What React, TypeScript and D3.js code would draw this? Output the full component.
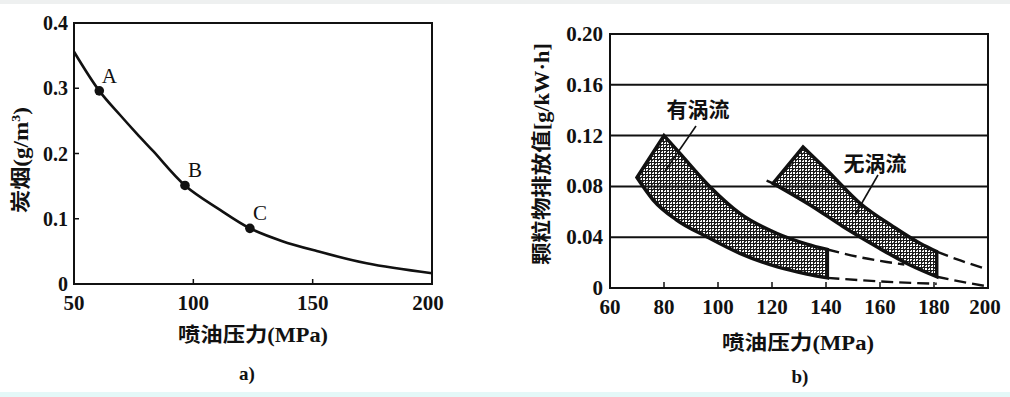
import React from "react";
import * as d3 from "d3";

// ---------- Chart a) data ----------
const aPressure = [50, 60.6, 69.3, 76.3, 83.2, 96.5, 111.2, 123.7, 137, 151.7, 172.6, 200];
const aSoot = [0.356, 0.296, 0.259, 0.2305, 0.2035, 0.151, 0.1135, 0.0853, 0.066, 0.0505, 0.0317, 0.0164];
const aMarkLabels = ["A", "B", "C"];
const aMarkX = [60.6, 96.5, 123.7];
const aMarkY = [0.296, 0.151, 0.0853];
const aXTicks = [50, 100, 150, 200];
const aYTicks = [0, 0.1, 0.2, 0.3, 0.4];
const aYTickLabels = ["0", "0.1", "0.2", "0.3", "0.4"];

// ---------- Chart b) data ----------
const bXTicks = [60, 80, 100, 120, 140, 160, 180, 200];
const bYTicks = [0, 0.04, 0.08, 0.12, 0.16, 0.2];
const bYTickLabels = ["0", "0.04", "0.08", "0.12", "0.16", "0.20"];
const bGrid = [0.04, 0.08, 0.12, 0.16];

// 有涡流 band
const swirlUpperX = [80, 85.9, 97, 108.1, 121.7, 132.9, 140.5];
const swirlUpperY = [0.12, 0.106, 0.0798, 0.0588, 0.0431, 0.0346, 0.0303];
const swirlLowerX = [70, 76, 84.7, 95.8, 108.1, 121.7, 132.9, 140.5];
const swirlLowerY = [0.087, 0.0693, 0.0535, 0.0404, 0.0273, 0.0168, 0.011, 0.008];

// 无涡流 band
const noSwirlUpperX = [131.5, 140.3, 152.6, 164.9, 174.8, 181];
const noSwirlUpperY = [0.111, 0.0929, 0.0667, 0.0483, 0.0352, 0.0286];
const noSwirlLowerX = [120.4, 134.1, 146.4, 158.8, 171.1, 181];
const noSwirlLowerY = [0.0824, 0.0654, 0.0483, 0.0325, 0.0181, 0.0089];

// dashed extensions
const dashSwirlUpX = [140.5, 152, 162.5, 169];
const dashSwirlUpY = [0.0303, 0.0245, 0.0205, 0.0185];
const dashSwirlLowX = [140.5, 160, 181];
const dashSwirlLowY = [0.008, 0.0052, 0.0033];
const dashNoUpX = [181, 190, 200];
const dashNoUpY = [0.0286, 0.0215, 0.0145];
const dashNoLowX = [181, 190, 200];
const dashNoLowY = [0.0089, 0.005, 0.0012];
const dashNoLeftX = [118, 120.4];
const dashNoLeftY = [0.0845, 0.0824];

const SERIF = "'Liberation Serif', 'DejaVu Serif', 'Noto Sans CJK SC', serif";
const CJK = "'Liberation Serif', 'Noto Sans CJK SC', serif";

const zip = (xs: number[], ys: number[]) => xs.map((x, i) => [x, ys[i]] as [number, number]);

export default function App() {
  // scales a)
  const ax = d3.scaleLinear().domain([50, 200]).range([74, 432]);
  const ay = d3.scaleLinear().domain([0, 0.4]).range([284, 23]);
  // scales b)
  const bx = d3.scaleLinear().domain([60, 200]).range([610, 988]);
  const by = d3.scaleLinear().domain([0, 0.2]).range([288, 34]);

  const aLine = d3
    .line<[number, number]>()
    .x((d) => ax(d[0]))
    .y((d) => ay(d[1]))
    .curve(d3.curveCatmullRom.alpha(0.5));

  const bCurve = d3
    .line<[number, number]>()
    .x((d) => bx(d[0]))
    .y((d) => by(d[1]))
    .curve(d3.curveMonotoneX);

  const bandPath = (ux: number[], uy: number[], lx: number[], ly: number[]) => {
    const upper = bCurve(zip(ux, uy)) || "";
    const lowerRev = zip(lx, ly).slice().reverse();
    const lowerPath =
      d3
        .line<[number, number]>()
        .x((d) => bx(d[0]))
        .y((d) => by(d[1]))
        .curve(d3.curveMonotoneX)(lowerRev) || "";
    const start = `M${bx(lx[0])},${by(ly[0])}L${bx(ux[0])},${by(uy[0])}`;
    const up = upper.replace(/^M[^CLZ]*/, "");
    const low = lowerPath.replace(/^M/, "L");
    return start + up + low + "Z";
  };

  const swirlPath = bandPath(swirlUpperX, swirlUpperY, swirlLowerX, swirlLowerY);
  const noSwirlPath = bandPath(noSwirlUpperX, noSwirlUpperY, noSwirlLowerX, noSwirlLowerY);

  const dashes = [
    zip(dashSwirlUpX, dashSwirlUpY),
    zip(dashSwirlLowX, dashSwirlLowY),
    zip(dashNoUpX, dashNoUpY),
    zip(dashNoLowX, dashNoLowY),
  ];

  return (
    <svg
      width={1010}
      height={397}
      style={{ position: "absolute", left: 0, top: 0, background: "#fff" }}
    >
      <defs>
        <pattern id="hatch" width={6} height={6} patternUnits="userSpaceOnUse">
          <rect width={6} height={6} fill="#fff" />
          <rect x={0} y={0} width={6} height={1} fill="#1a1a1a" />
          <rect x={0} y={3} width={6} height={1} fill="#1a1a1a" />
          <rect x={0} y={0} width={1} height={6} fill="#1a1a1a" />
          <rect x={3} y={0} width={1} height={6} fill="#1a1a1a" />
          <rect x={1} y={1} width={1} height={1} fill="#444" />
          <rect x={4} y={4} width={1} height={1} fill="#444" />
          <rect x={5} y={2} width={1} height={1} fill="#666" />
        </pattern>
      </defs>
      <rect x={0} y={0} width={1010} height={397} fill="#fff" />
      <rect x={0} y={0} width={1010} height={4} fill="#eef0f0" />
      <rect x={0} y={392} width={1010} height={5} fill="#e4f8f8" />

      {/* ================= Chart a) ================= */}
      <g>
        <rect x={74} y={23} width={358} height={261} fill="none" stroke="#111" strokeWidth={2} />
        {aXTicks.slice(1, -1).map((t) => (
          <line key={"axt" + t} x1={ax(t)} x2={ax(t)} y1={284} y2={279} stroke="#111" strokeWidth={1.5} />
        ))}
        {aYTicks.slice(1, -1).map((t) => (
          <line key={"ayt" + t} x1={74} x2={79} y1={ay(t)} y2={ay(t)} stroke="#111" strokeWidth={1.5} />
        ))}
        {aXTicks.map((t) => (
          <text
            key={"axl" + t}
            x={ax(t) - (t === 200 ? 4 : 0)}
            y={310}
            textAnchor="middle"
            fontFamily={SERIF}
            fontWeight="bold"
            fontSize={21}
            fill="#111"
          >
            {t}
          </text>
        ))}
        {aYTicks.map((t, i) => (
          <text
            key={"ayl" + t}
            x={68}
            y={ay(t) + 7}
            textAnchor="end"
            fontFamily={SERIF}
            fontWeight="bold"
            fontSize={20}
            fill="#111"
          >
            {aYTickLabels[i]}
          </text>
        ))}
        <path d={aLine(zip(aPressure, aSoot)) || ""} fill="none" stroke="#111" strokeWidth={2.6} />
        {aMarkX.map((x, i) => (
          <g key={"am" + i}>
            <circle cx={ax(x)} cy={ay(aMarkY[i])} r={4.8} fill="#111" />
            <text
              x={ax(x) + 10}
              y={ay(aMarkY[i]) - 8}
              textAnchor="middle"
              fontFamily={SERIF}
              fontSize={21}
              fill="#111"
            >
              {aMarkLabels[i]}
            </text>
          </g>
        ))}
        <text
          x={253}
          y={342}
          textAnchor="middle"
          fontFamily={CJK}
          fontWeight="bold"
          fontSize={20}
          textLength={150}
          lengthAdjust="spacingAndGlyphs"
          fill="#111"
        >
          喷油压力(MPa)
        </text>
        <text
          x={247}
          y={380}
          textAnchor="middle"
          fontFamily={SERIF}
          fontWeight="bold"
          fontSize={19}
          fill="#111"
        >
          a)
        </text>
        <text
          transform="translate(28,160) rotate(-90)"
          textAnchor="middle"
          fontFamily={CJK}
          fontWeight="bold"
          fontSize={20}
          textLength={106}
          lengthAdjust="spacingAndGlyphs"
          fill="#111"
        >
          炭烟(g/m
          <tspan fontSize={12} dy={-8}>3</tspan>
          <tspan dy={8}>)</tspan>
        </text>
      </g>

      {/* ================= Chart b) ================= */}
      <g>
        <path d={swirlPath} fill="url(#hatch)" stroke="#111" strokeWidth={3.5} strokeLinejoin="miter" />
        <path d={noSwirlPath} fill="url(#hatch)" stroke="#111" strokeWidth={3.5} strokeLinejoin="miter" />
        {bGrid.map((g) => (
          <line key={"bg" + g} x1={610} x2={988} y1={by(g)} y2={by(g)} stroke="#111" strokeWidth={2} />
        ))}
        {dashes.map((d, i) => (
          <path
            key={"bd" + i}
            d={bCurve(d) || ""}
            fill="none"
            stroke="#111"
            strokeWidth={2.4}
            strokeDasharray="12 6"
          />
        ))}
        <path
          d={bCurve(zip(dashNoLeftX, dashNoLeftY)) || ""}
          fill="none"
          stroke="#111"
          strokeWidth={2.4}
        />
        <rect x={610} y={34} width={378} height={254} fill="none" stroke="#111" strokeWidth={2} />
        {bXTicks.slice(1, -1).map((t) => (
          <line key={"bxt" + t} x1={bx(t)} x2={bx(t)} y1={288} y2={282} stroke="#111" strokeWidth={1.5} />
        ))}
        {bXTicks.map((t) => (
          <text
            key={"bxl" + t}
            x={bx(t) - (t === 200 ? 3 : 0)}
            y={314}
            textAnchor="middle"
            fontFamily={SERIF}
            fontWeight="bold"
            fontSize={21}
            fill="#111"
          >
            {t}
          </text>
        ))}
        {bYTicks.map((t, i) => (
          <text
            key={"byl" + t}
            x={603}
            y={by(t) + 7}
            textAnchor="end"
            fontFamily={SERIF}
            fontWeight="bold"
            fontSize={21}
            fill="#111"
          >
            {bYTickLabels[i]}
          </text>
        ))}
        {/* leaders */}
        <line x1={696} y1={126} x2={665} y2={171} stroke="#111" strokeWidth={1.6} />
        <line x1={878} y1={175} x2={855} y2={215} stroke="#111" strokeWidth={1.6} />
        <text
          x={698}
          y={117}
          textAnchor="middle"
          fontFamily={CJK}
          fontWeight="bold"
          fontSize={21}
          fill="#111"
        >
          有涡流
        </text>
        <text
          x={875}
          y={171}
          textAnchor="middle"
          fontFamily={CJK}
          fontWeight="bold"
          fontSize={21}
          fill="#111"
        >
          无涡流
        </text>
        <text
          x={798}
          y={350}
          textAnchor="middle"
          fontFamily={CJK}
          fontWeight="bold"
          fontSize={20}
          textLength={152}
          lengthAdjust="spacingAndGlyphs"
          fill="#111"
        >
          喷油压力(MPa)
        </text>
        <text
          x={800}
          y={383}
          textAnchor="middle"
          fontFamily={SERIF}
          fontWeight="bold"
          fontSize={19}
          fill="#111"
        >
          b)
        </text>
        <text
          transform="translate(549,154) rotate(-90)"
          textAnchor="middle"
          fontFamily={CJK}
          fontWeight="bold"
          fontSize={20}
          textLength={222}
          lengthAdjust="spacingAndGlyphs"
          fill="#111"
        >
          颗粒物排放值[g/kW·h]
        </text>
      </g>
    </svg>
  );
}
